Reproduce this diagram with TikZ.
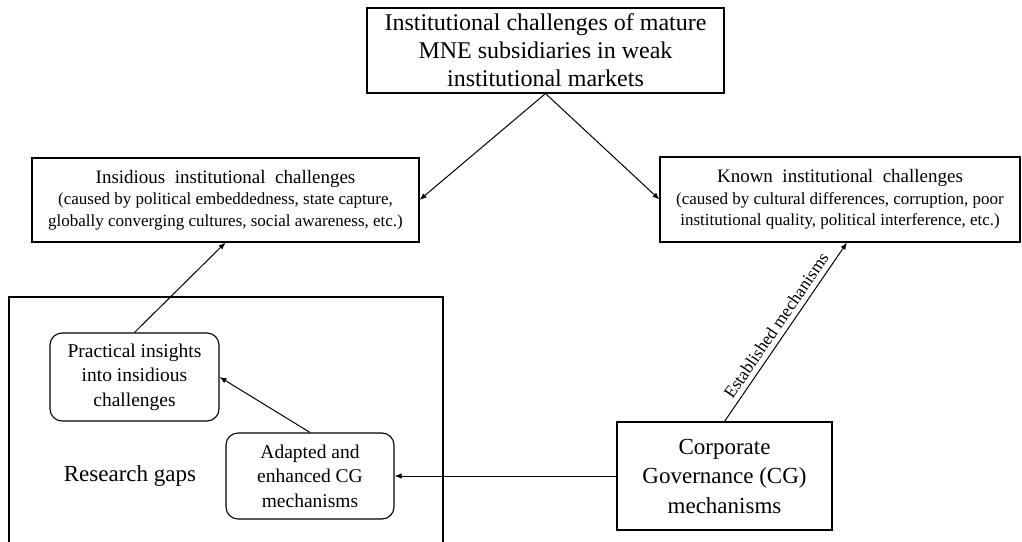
\documentclass[tikz,border=0pt]{standalone}
\usepackage{fontspec}
\setmainfont{Liberation Serif}
\usetikzlibrary{arrows.meta,calc}

\tikzset{
  every picture/.style={line width=1.1pt},
  squarebox/.style={draw, rectangle, align=center, inner sep=2pt},
  roundbox/.style={draw, rectangle, rounded corners=12pt, align=center, inner sep=2pt},
  link/.style={-{Latex[length=7pt,width=5.5pt]}, line width=1pt},
  titlefont/.style={font=\fontsize{24}{28}\selectfont},
  headfont/.style={font=\fontsize{17}{21.5}\selectfont},
  midfont/.style={font=\fontsize{19.5}{24.5}\selectfont},
  bigfont/.style={font=\fontsize{23}{29.5}\selectfont}
}

\newcommand{\headline}[1]{{\fontsize{19}{22.5}\selectfont #1}}

\begin{document}
\begin{tikzpicture}[x=1pt,y=-1pt]
  \useasboundingbox (0,0) rectangle (1022,541);

  % top-level challenge
  \node[squarebox, titlefont, minimum width=357pt, minimum height=85pt] (top) at (545.5,50.5)
    {Institutional challenges of mature\\MNE subsidiaries in weak\\institutional markets};

  % the two kinds of challenges
  \node[squarebox, headfont, minimum width=387pt, minimum height=84pt] (insid) at (225.5,200)
    {\headline{Insidious\ \ institutional\ \ challenges}\\(caused by political embeddedness, state capture,\\globally converging cultures, social awareness, etc.)};
  \node[squarebox, headfont, minimum width=360pt, minimum height=85pt] (known) at (840,199.5)
    {\headline{Known\ \ institutional\ \ challenges}\\(caused by cultural differences, corruption, poor\\institutional quality, political interference, etc.)};

  % research gaps frame (open at the bottom edge)
  \draw (9,548) |- (443,297) -- (443,548);
  \node[bigfont] (gaps) at (130,476) {Research gaps};

  \node[roundbox, midfont, minimum width=169pt, minimum height=88pt] (practical) at (134.5,377)
    {Practical insights\\into insidious\\challenges};
  \node[roundbox, midfont, minimum width=168pt, minimum height=86pt] (adapted) at (310,476)
    {Adapted and\\enhanced CG\\mechanisms};

  % corporate governance mechanisms
  \node[squarebox, bigfont, minimum width=215pt, minimum height=108pt] (cg) at (724.5,476)
    {Corporate\\Governance (CG)\\mechanisms};

  % connectors
  \draw[link] (top.south) -- (insid.east);
  \draw[link] (top.south) -- (known.west);
  \draw[link] (practical.north) -- (insid.south);
  \draw[link] (adapted.north) -- (practical.east);
  \draw[link] (cg.west) -- (adapted.east);
  \draw[link] (cg.north) -- node[sloped, above, midway, inner sep=5pt, font=\fontsize{17.5}{20}\selectfont] {Established mechanisms} ([xshift=7pt]known.south);
\end{tikzpicture}
\end{document}
